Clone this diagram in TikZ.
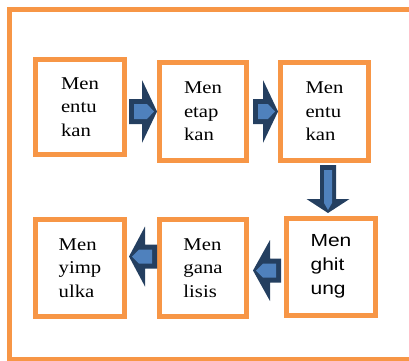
\documentclass[tikz,border=0pt]{standalone}
\usepackage{fontspec}
\usetikzlibrary{calc}
\newfontfamily\boxserif[FakeStretch=1.15]{Liberation Serif}
\newfontfamily\boxsans[FakeStretch=1.2]{Liberation Sans}
\definecolor{boxorange}{HTML}{F79646}
\definecolor{arrowdark}{HTML}{243F60}
\definecolor{arrowlight}{HTML}{4F81BD}

% Block arrow: #1 tip, #2 direction, #3 length, #4 head length,
% #5 head half width, #6 shaft half width, #7 inner half width
\newcommand\blockarrow[7]{%
  \begin{scope}[shift={#1}, rotate=#2]
    \fill[arrowdark] (0,0) -- (-#4,#5) -- (-#4,#6) -- (-#3,#6)
      -- (-#3,-#6) -- (-#4,-#6) -- (-#4,-#5) -- cycle;
    \fill[arrowlight] (-3,0) -- (-10,#7) -- (-#3+5,#7)
      -- (-#3+5,-#7) -- (-10,-#7) -- cycle;
  \end{scope}}

\tikzset{
  procbox/.style={draw=boxorange, line width=5pt, minimum width=88pt,
    minimum height=97pt, align=left, inner sep=0pt,
    font=\boxserif\fontsize{18pt}{23.5pt}\selectfont},
  sanstext/.style={font=\boxsans\fontsize{17.5pt}{24pt}\selectfont},
  frame/.style={draw=boxorange, line width=5pt}
}

\begin{document}
\begin{tikzpicture}[x=1pt, y=1pt]
\useasboundingbox (0,0) rectangle (409,360);

% outer frame, open beyond the right edge
\draw[frame] (9.5,1) rectangle (420,350.5);

% top row
\node[procbox, minimum width=89pt, minimum height=95pt] (b1) at (80,253) {Men\\entu\\kan};
\node[procbox, minimum width=87pt, minimum height=98pt] (b2) at (203,248.5) {Men\\etap\\kan};
\node[procbox, minimum width=88pt, minimum height=98pt] (b3) at (324.5,248.5) {Men\\entu\\kan};

% bottom row
\node[procbox, minimum width=89pt] (b4) at (80,92) {Men\\yimp\\ulka};
\node[procbox, minimum width=87pt] (b5) at (203,92) {Men\\gana\\lisis};
\node[procbox, sanstext, minimum width=89pt] (b6) at (331,93.5) {Men\\ghit\\ung};

% arrows between the steps
\blockarrow{(b2.west)}{0}{28}{15}{31.5}{12.5}{7.5}
\blockarrow{(b3.west)}{0}{25}{15}{31.5}{12.5}{7.5}
\blockarrow{($(b6.north)+(-3,2.5)$)}{-90}{48}{14}{21.5}{8}{4}
\blockarrow{($(b5.east)+(4,-2.5)$)}{180}{28}{17}{30.5}{12}{7}
\blockarrow{($(b4.east)+(2,11.5)$)}{180}{28}{16}{30}{12}{7}
\end{tikzpicture}
\end{document}
